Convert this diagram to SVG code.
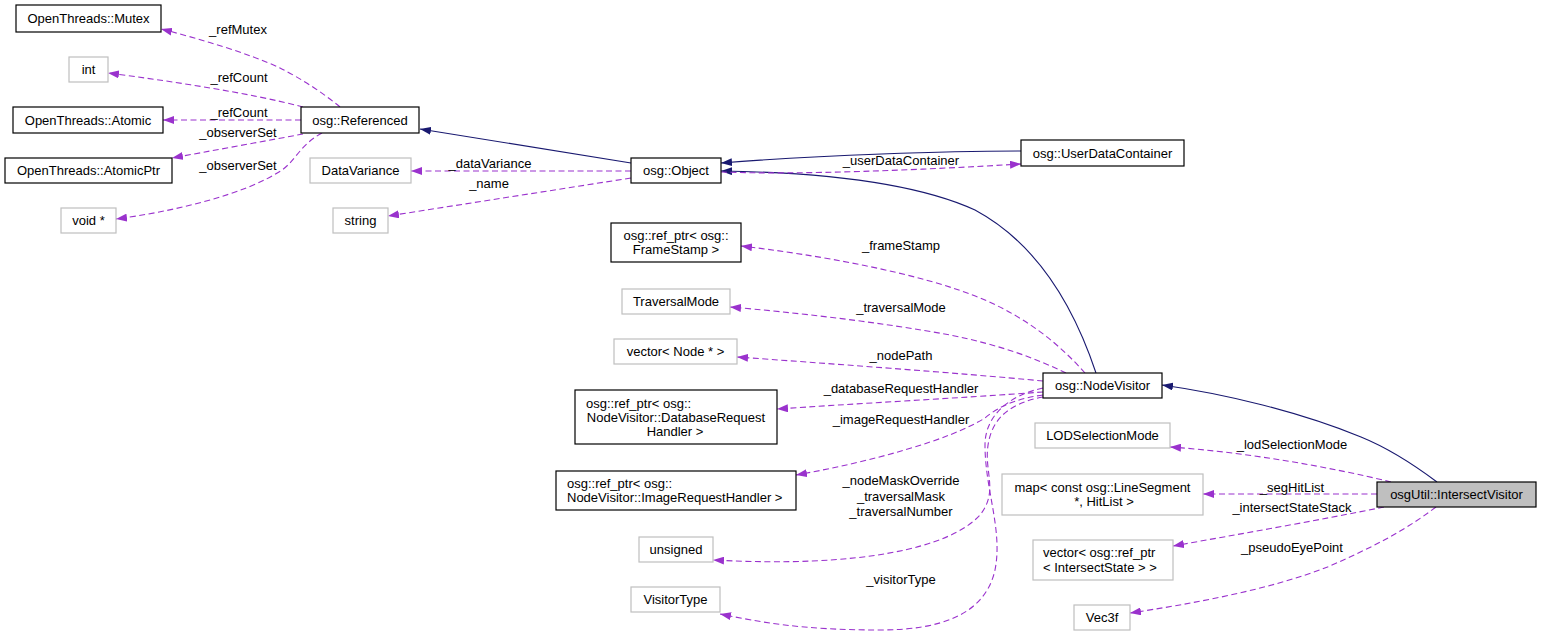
<svg xmlns="http://www.w3.org/2000/svg" width="1541" height="637" viewBox="0 0 1541 637">
<style>
text{font-family:"Liberation Sans",Arial,Helvetica,sans-serif;font-size:13px;fill:#000}
.c{text-anchor:middle}
.nb{fill:#fff;stroke:#000;stroke-width:1.2}
.ng{fill:#fff;stroke:#bfbfbf;stroke-width:1.2}
.nh{fill:#bfbfbf;stroke:#000;stroke-width:1.2}
.u{fill:none;stroke:#9a32cd;stroke-width:1.1;stroke-dasharray:6,3.5;marker-end:url(#ap)}
.i{fill:none;stroke:#191970;stroke-width:1.1;marker-end:url(#an)}
</style>
<defs>
<marker id="ap" viewBox="0 0 11 8" refX="11" refY="4" markerWidth="11" markerHeight="8" orient="auto" markerUnits="userSpaceOnUse"><path d="M0,0 L11,4 L0,8 z" fill="#9a32cd"/></marker>
<marker id="an" viewBox="0 0 11 8" refX="11" refY="4" markerWidth="11" markerHeight="8" orient="auto" markerUnits="userSpaceOnUse"><path d="M0,0 L11,4 L0,8 z" fill="#191970"/></marker>
</defs>
<rect width="1541" height="637" fill="#fff"/>
<g id="edges">
<path class="u" d="M340,107 C322,92 300,78 280,68 C248,53 200,39 161,29"/>
<path class="u" d="M303,107 C250,93 170,81 108,73"/>
<path class="u" d="M301,120 L163,120"/>
<path class="u" d="M303,134 C260,142 210,151 172,158"/>
<path class="u" d="M322,133 C300,145 296,160 282,170 C245,195 170,212 116,219"/>
<path class="i" d="M631,163 L420,129"/>
<path class="u" d="M631,171 L411,171"/>
<path class="u" d="M631,178 L388,216"/>
<path class="i" d="M1021,151 C950,151 820,155 721,163"/>
<path class="i" d="M1096,373 C1075,310 1040,245 975,210 C905,178 790,172 721,171"/>
<path class="u" d="M721,172 C800,175 920,170 1021,164"/>
<path class="i" d="M1437,482 C1413,464 1388,448 1361,437 C1300,412 1226,394 1162,385"/>
<path class="u" d="M1085,373 C1060,345 1030,320 985,300 C920,272 810,254 741,246"/>
<path class="u" d="M1066,373 C1035,358 1000,345 950,335 C880,322 790,312 730,307"/>
<path class="u" d="M1043,381 C960,373 820,363 737,357"/>
<path class="u" d="M1043,392 C960,398 850,404 777,409"/>
<path class="u" d="M1043,395 C1020,398 1000,405 985,418 C950,440 870,462 796,475"/>
<path class="u" d="M1043,397 C1010,403 994,418 989,440 C982,470 1000,490 980,515 C950,548 860,568 713,560"/>
<path class="u" d="M1043,388 C1010,395 985,415 985,445 C985,490 1003,530 995,570 C985,615 940,630 880,630 C800,630 760,622 720,614"/>
<path class="u" d="M1391,482 C1330,467 1245,452 1170,447"/>
<path class="u" d="M1377,494 L1203,494"/>
<path class="u" d="M1384,507 C1320,520 1240,534 1173,546"/>
<path class="u" d="M1436,507 C1400,534 1370,548 1330,566 C1270,590 1190,604 1130,613"/>
<text class="c" x="238" y="33.5">_refMutex</text>
<text class="c" x="239" y="81.5">_refCount</text>
<text class="c" x="239" y="116.5">_refCount</text>
<text class="c" x="238" y="136.5">_observerSet</text>
<text class="c" x="238" y="169.5">_observerSet</text>
<text class="c" x="490" y="167.5">_dataVariance</text>
<text class="c" x="489" y="188">_name</text>
<text class="c" x="901" y="165">_userDataContainer</text>
<text class="c" x="901" y="249.5">_frameStamp</text>
<text class="c" x="901" y="311.5">_traversalMode</text>
<text class="c" x="901" y="359.5">_nodePath</text>
<text class="c" x="901" y="392.5">_databaseRequestHandler</text>
<text class="c" x="901" y="423.5">_imageRequestHandler</text>
<text class="c" x="901" y="484.5">_nodeMaskOverride</text>
<text class="c" x="901" y="500.5">_traversalMask</text>
<text class="c" x="901" y="515.5">_traversalNumber</text>
<text class="c" x="901" y="583.5">_visitorType</text>
<text class="c" x="1292" y="448.5">_lodSelectionMode</text>
<text class="c" x="1292" y="491.5">_segHitList</text>
<text class="c" x="1292" y="511.5">_intersectStateStack</text>
<text class="c" x="1292" y="551.5">_pseudoEyePoint</text>
</g>
<g id="n_mutex"><rect class="nb" x="16" y="5" width="145" height="27"/><text class="c" x="88.5" y="23">OpenThreads::Mutex</text></g>
<g id="n_int"><rect class="ng" x="69" y="57" width="39" height="25"/><text class="c" x="88.5" y="74">int</text></g>
<g id="n_atomic"><rect class="nb" x="13" y="107" width="150" height="26"/><text class="c" x="88" y="124.5">OpenThreads::Atomic</text></g>
<g id="n_referenced"><rect class="nb" x="301" y="107" width="118" height="26"/><text class="c" x="360" y="124.5">osg::Referenced</text></g>
<g id="n_atomicptr"><rect class="nb" x="5" y="158" width="167" height="25"/><text class="c" x="88.5" y="175">OpenThreads::AtomicPtr</text></g>
<g id="n_void"><rect class="ng" x="61" y="208" width="55" height="25"/><text class="c" x="88.5" y="225">void *</text></g>
<g id="n_datavariance"><rect class="ng" x="310" y="158" width="101" height="25"/><text class="c" x="360.5" y="175">DataVariance</text></g>
<g id="n_string"><rect class="ng" x="333" y="208" width="55" height="25"/><text class="c" x="360.5" y="225">string</text></g>
<g id="n_object"><rect class="nb" x="631" y="158" width="90" height="25"/><text class="c" x="676" y="175">osg::Object</text></g>
<g id="n_userdata"><rect class="nb" x="1021" y="140" width="163" height="26"/><text class="c" x="1102.5" y="157.5">osg::UserDataContainer</text></g>
<g id="n_framestamp"><rect class="nb" x="611" y="223" width="130" height="39"/><text class="c" x="676" y="240">osg::ref_ptr&lt; osg::</text><text class="c" x="676" y="254">FrameStamp &gt;</text></g>
<g id="n_traversalmode"><rect class="ng" x="622" y="289" width="108" height="25"/><text class="c" x="676" y="306">TraversalMode</text></g>
<g id="n_vecnode"><rect class="ng" x="614" y="339" width="123" height="25"/><text class="c" x="675.5" y="356">vector&lt; Node * &gt;</text></g>
<g id="n_nodevisitor"><rect class="nb" x="1043" y="373" width="119" height="25"/><text class="c" x="1102.5" y="390">osg::NodeVisitor</text></g>
<g id="n_dbreq"><rect class="nb" x="575" y="390" width="202" height="54"/><text x="586" y="408">osg::ref_ptr&lt; osg::</text><text class="c" x="676" y="422">NodeVisitor::DatabaseRequest</text><text class="c" x="675" y="436">Handler &gt;</text></g>
<g id="n_imgreq"><rect class="nb" x="556" y="471" width="240" height="39"/><text x="567" y="487.5">osg::ref_ptr&lt; osg::</text><text x="567" y="501.5">NodeVisitor::ImageRequestHandler &gt;</text></g>
<g id="n_unsigned"><rect class="ng" x="639" y="537" width="74" height="25"/><text class="c" x="676" y="554">unsigned</text></g>
<g id="n_visitortype"><rect class="ng" x="631" y="587" width="89" height="25"/><text class="c" x="675.5" y="604">VisitorType</text></g>
<g id="n_lod"><rect class="ng" x="1035" y="423" width="135" height="25"/><text class="c" x="1102.5" y="440">LODSelectionMode</text></g>
<g id="n_map"><rect class="ng" x="1002" y="474" width="201" height="41"/><text class="c" x="1102.5" y="491.5">map&lt; const osg::LineSegment</text><text class="c" x="1104" y="505.5">*, HitList &gt;</text></g>
<g id="n_intersect"><rect class="nh" x="1377" y="482" width="159" height="25"/><text class="c" x="1456.5" y="499">osgUtil::IntersectVisitor</text></g>
<g id="n_vecis"><rect class="ng" x="1033" y="540" width="140" height="40"/><text x="1043" y="556.5">vector&lt; osg::ref_ptr</text><text x="1043" y="571.5">&lt; IntersectState &gt; &gt;</text></g>
<g id="n_vec3f"><rect class="ng" x="1074" y="605" width="56" height="25"/><text class="c" x="1102" y="622">Vec3f</text></g>
</svg>
